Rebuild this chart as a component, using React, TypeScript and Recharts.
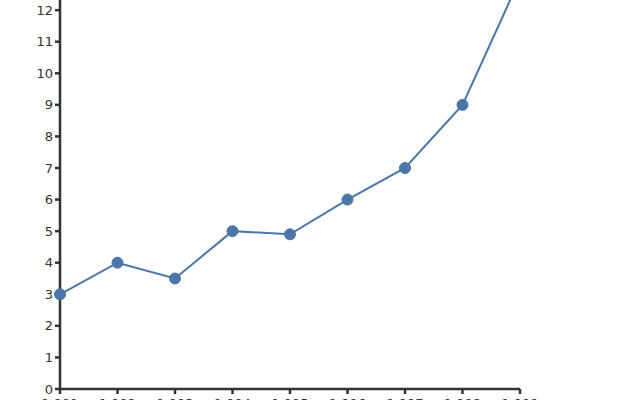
import { CartesianGrid, Line, LineChart, XAxis, YAxis } from 'recharts';

const years = [1991, 1992, 1993, 1994, 1995, 1996, 1997, 1998, 1999];
const values = [3, 4, 3.5, 5, 4.9, 6, 7, 9, 13];
const yTicks = [0, 1, 2, 3, 4, 5, 6, 7, 8, 9, 10, 11, 12, 13, 14];

const chartData = years.map((year, index) => ({
  year,
  value: values[index],
}));

const axisColor = '#333333';
const lineColor = '#4a76a8';

export default function App() {
  return (
    <div style={{ position: 'absolute', left: 0, top: -60, width: 640, height: 480 }}>
      <LineChart
        width={640}
        height={480}
        data={chartData}
        margin={{ top: 7, right: 120, left: 0, bottom: 0 }}
      >
        <CartesianGrid stroke="none" />
        <XAxis
          dataKey="year"
          height={31}
          stroke={axisColor}
          strokeWidth={2.5}
          tickSize={5}
          tickMargin={5}
          tick={{ fill: axisColor, fontSize: 13, fontFamily: 'DejaVu Sans' }}
          tickFormatter={(v: number) => v.toLocaleString('en-US')}
          interval={0}
        />
        <YAxis
          width={60}
          domain={[0, 14]}
          ticks={yTicks}
          stroke={axisColor}
          strokeWidth={2.5}
          tickSize={5}
          tick={{ fill: axisColor, fontSize: 13, fontFamily: 'DejaVu Sans' }}
          interval={0}
        />
        <Line
          type="linear"
          dataKey="value"
          stroke={lineColor}
          strokeWidth={2}
          dot={{ r: 5.5, fill: lineColor, stroke: lineColor, strokeWidth: 1 }}
          isAnimationActive={false}
        />
      </LineChart>
    </div>
  );
}
